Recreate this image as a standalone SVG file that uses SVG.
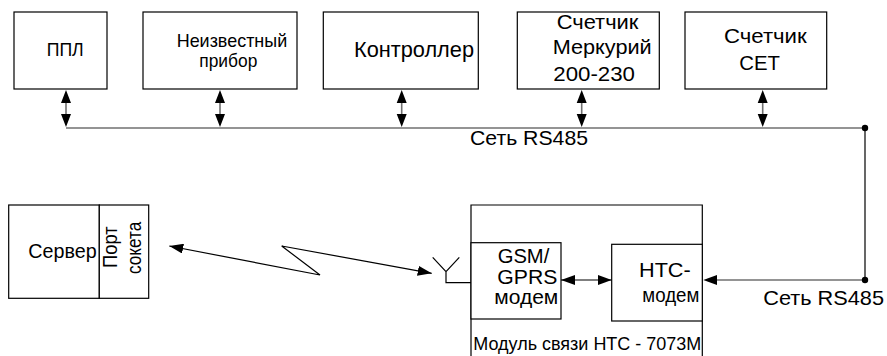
<svg xmlns="http://www.w3.org/2000/svg" width="887" height="356" viewBox="0 0 887 356">
<style>
.box{fill:#fff;stroke:#000;stroke-width:1.2}
.t{font-family:"Liberation Sans",Arial,sans-serif;fill:#000}
.bus{stroke:#707070;stroke-width:1.6;fill:none}
.ln{stroke:#000;stroke-width:1.2;fill:none}
.ah{fill:#000}
</style>
<defs>
<marker id="arr" viewBox="0 0 14 10" refX="14" refY="5" markerWidth="14" markerHeight="10" markerUnits="userSpaceOnUse" orient="auto-start-reverse"><path d="M0,0 L14,5 L0,10 Z" fill="#000"/></marker>
</defs>
<rect width="887" height="356" fill="#fff"/>

<g id="ppl"><rect class="box" x="14" y="12" width="93" height="77"/><text class="t" x="46.7" y="56" font-size="18" textLength="37" lengthAdjust="spacingAndGlyphs">ППЛ</text></g>
<g id="unknown"><rect class="box" x="143" y="12" width="154" height="77"/><text class="t" x="176.7" y="46.7" font-size="18.5" textLength="110.5" lengthAdjust="spacingAndGlyphs">Неизвестный</text><text class="t" x="199.3" y="66.5" font-size="18.5" textLength="58" lengthAdjust="spacingAndGlyphs">прибор</text></g>
<g id="controller"><rect class="box" x="323.3" y="12" width="155" height="77"/><text class="t" x="354" y="57.3" font-size="22" textLength="120" lengthAdjust="spacingAndGlyphs">Контроллер</text></g>
<g id="mercury"><rect class="box" x="517.3" y="12" width="142" height="77"/><text class="t" x="556.7" y="29" font-size="21" textLength="81.7" lengthAdjust="spacingAndGlyphs">Счетчик</text><text class="t" x="552.7" y="54" font-size="21" textLength="99" lengthAdjust="spacingAndGlyphs">Меркурий</text><text class="t" x="553.3" y="80.5" font-size="21" textLength="81.7" lengthAdjust="spacingAndGlyphs">200-230</text></g>
<g id="cet"><rect class="box" x="685" y="12" width="141.7" height="77"/><text class="t" x="724" y="43.3" font-size="21" textLength="82.7" lengthAdjust="spacingAndGlyphs">Счетчик</text><text class="t" x="739.3" y="70" font-size="21" textLength="40.7" lengthAdjust="spacingAndGlyphs">СЕТ</text></g>

<g id="server"><rect class="box" x="8.7" y="205" width="90.6" height="93.3"/><text class="t" x="28.3" y="258" font-size="21" textLength="68.3" lengthAdjust="spacingAndGlyphs">Сервер</text></g>
<g id="port"><rect class="box" x="99.3" y="205" width="49.4" height="93.3"/><text class="t" transform="translate(117,268) rotate(-90)" font-size="20" textLength="41.6" lengthAdjust="spacingAndGlyphs">Порт</text><text class="t" transform="translate(140.5,274) rotate(-90)" font-size="20" textLength="52.3" lengthAdjust="spacingAndGlyphs">сокета</text></g>

<g id="module"><path class="ln" d="M471,357 V205 H702.3 V357"/><text class="t" x="473.3" y="350" font-size="18" textLength="228" lengthAdjust="spacingAndGlyphs">Модуль связи НТС - 7073М</text></g>
<g id="gsm"><rect class="box" x="471" y="242.7" width="90" height="76.3"/><text class="t" x="497.7" y="263.3" font-size="19.5" textLength="51.6" lengthAdjust="spacingAndGlyphs">GSM/</text><text class="t" x="497.3" y="284" font-size="19.5" textLength="60" lengthAdjust="spacingAndGlyphs">GPRS</text><text class="t" x="494.3" y="304" font-size="19.5" textLength="64" lengthAdjust="spacingAndGlyphs">модем</text></g>
<g id="htc"><rect class="box" x="611.7" y="244.3" width="90.6" height="76.7"/><text class="t" x="639" y="276.5" font-size="21" textLength="51.7" lengthAdjust="spacingAndGlyphs">НТС-</text><text class="t" x="642.3" y="302" font-size="21" textLength="57" lengthAdjust="spacingAndGlyphs">модем</text></g>
<g id="antenna"><path class="ln" d="M432.7,257.3 L446,271.7 L459.3,257.3 M446,271.7 V282.7 H471"/></g>

<g id="connectors">
<path class="bus" d="M66,128 H865"/>
<path class="ln" d="M865,128 V280"/>
<path class="bus" d="M717,280 H865"/>
<circle cx="865" cy="128" r="3.2" fill="#000"/>
<circle cx="865" cy="280" r="3.2" fill="#000"/>
<path class="bus" d="M66,100 V116 M220,100 V116 M401.7,100 V116 M581.7,100 V116 M762.7,100 V116" stroke-width="1.2"/>
<g class="ah">
<path d="M66,90 L61,103 L71,103 Z M66,127 L61,114 L71,114 Z"/>
<path d="M220,90 L215,103 L225,103 Z M220,127 L215,114 L225,114 Z"/>
<path d="M401.7,90 L396.7,103 L406.7,103 Z M401.7,127 L396.7,114 L406.7,114 Z"/>
<path d="M581.7,90 L576.7,103 L586.7,103 Z M581.7,127 L576.7,114 L586.7,114 Z"/>
<path d="M762.7,90 L757.7,103 L767.7,103 Z M762.7,127 L757.7,114 L767.7,114 Z"/>
<path d="M703.3,280 L717,275 L717,285 Z"/>
</g>
<path class="ln" d="M561,280 H611.7" marker-start="url(#arr)" marker-end="url(#arr)"/>
<path class="ln" d="M169.3,246 L320,275 L281.7,246 L431.7,273.3" marker-start="url(#arr)" marker-end="url(#arr)"/>
<text class="t" x="470" y="145" font-size="21" textLength="118" lengthAdjust="spacingAndGlyphs">Сеть RS485</text>
<text class="t" x="763.3" y="305" font-size="21" textLength="120.7" lengthAdjust="spacingAndGlyphs">Сеть RS485</text>
</g>
</svg>
